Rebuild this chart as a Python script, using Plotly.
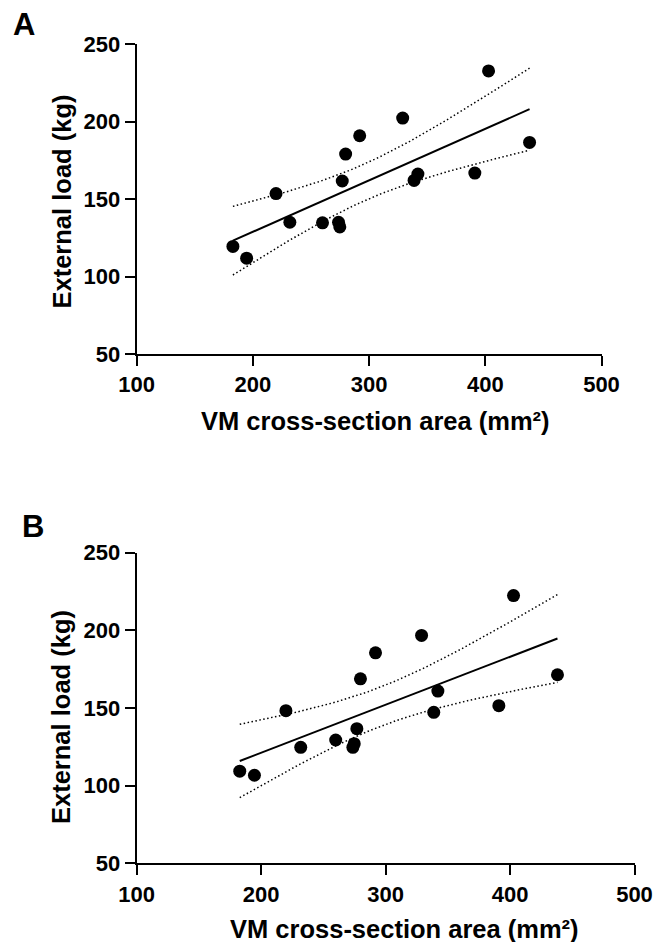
import numpy as np
import plotly.graph_objects as go

# ---- data ----
vm_area = [182.8, 194.6, 219.9, 231.8, 259.9, 273.7, 274.8, 276.9, 279.8, 291.9,
           328.9, 338.7, 342.0, 391.0, 402.8, 438.1]
load_a = [119.4, 111.8, 153.5, 135.0, 134.6, 135.0, 132.0, 161.6, 179.0, 190.8,
          202.2, 162.0, 166.1, 166.7, 232.6, 186.5]
load_b = [109.3, 106.7, 148.3, 124.7, 129.4, 124.7, 127.0, 136.7, 168.8, 185.5,
          196.7, 147.2, 160.9, 151.5, 222.4, 171.4]
x_ticks = [100, 200, 300, 400, 500]
y_ticks = [50, 100, 150, 200, 250]
x_title = "VM cross-section area (mm²)"
y_title = "External load (kg)"
panels = ["A", "B"]

W, H = 654, 942
T_CRIT = 2.1448  # t(0.975, df=14)


def fit(x, y):
    x = np.asarray(x, float)
    y = np.asarray(y, float)
    n = len(x)
    b, a = np.polyfit(x, y, 1)
    res = y - (a + b * x)
    s = np.sqrt(np.sum(res ** 2) / (n - 2))
    xbar = x.mean()
    sxx = np.sum((x - xbar) ** 2)
    xs = np.linspace(x.min(), x.max(), 100)
    ys = a + b * xs
    hw = T_CRIT * s * np.sqrt(1.0 / n + (xs - xbar) ** 2 / sxx)
    return xs, ys, ys - hw, ys + hw


def px_x(p):
    return p / W


def px_y(p):
    return 1 - p / H


fig = go.Figure()
font_family = "Liberation Sans, Arial, Helvetica, sans-serif"

for i, (ys_data, name) in enumerate([(load_a, "A"), (load_b, "B")]):
    xa = "x" if i == 0 else "x2"
    ya = "y" if i == 0 else "y2"
    xs, ys, lo, hi = fit(vm_area, ys_data)
    for band in (lo, hi):
        fig.add_trace(go.Scatter(x=xs, y=band, mode="lines", xaxis=xa, yaxis=ya,
                                 line=dict(color="black", width=1.5, dash="1.5px,2.5px"),
                                 showlegend=False, hoverinfo="skip"))
    fig.add_trace(go.Scatter(x=xs, y=ys, mode="lines", xaxis=xa, yaxis=ya,
                             line=dict(color="black", width=2), showlegend=False))
    fig.add_trace(go.Scatter(x=vm_area, y=ys_data, mode="markers", xaxis=xa, yaxis=ya,
                             marker=dict(color="black", size=13), showlegend=False))

axis_common = dict(showline=True, linecolor="black", linewidth=2, ticks="outside",
                   ticklen=10, tickwidth=2, tickcolor="black", showgrid=False,
                   zeroline=False, mirror=False, automargin=False,
                   tickfont=dict(family=font_family, size=22, color="black", weight="bold"))

fig.update_layout(
    template="none",
    width=W, height=H, margin=dict(l=0, r=0, t=0, b=0, autoexpand=False),
    plot_bgcolor="white", paper_bgcolor="white",
    xaxis=dict(domain=[px_x(136.7), px_x(601.5)], range=[100, 500], tickvals=x_ticks,
               anchor="y", **axis_common),
    yaxis=dict(domain=[px_y(354), px_y(44)], range=[50, 250], tickvals=y_ticks,
               anchor="x", **axis_common),
    xaxis2=dict(domain=[px_x(136.7), px_x(634.5)], range=[100, 500], tickvals=x_ticks,
                anchor="y2", **axis_common),
    yaxis2=dict(domain=[px_y(863.3), px_y(552.7)], range=[50, 250], tickvals=y_ticks,
                anchor="x2", **axis_common),
)

title_font = dict(family=font_family, size=25.5, color="black", weight="bold")
letter_font = dict(family=font_family, size=31, color="black", weight="bold")

annotations = [
    dict(text=panels[0], x=px_x(11), y=px_y(25), xref="paper", yref="paper",
         xanchor="left", yanchor="middle", showarrow=False, font=letter_font),
    dict(text=panels[1], x=px_x(20), y=px_y(526), xref="paper", yref="paper",
         xanchor="left", yanchor="middle", showarrow=False, font=letter_font),
    dict(text=y_title, x=px_x(61), y=px_y(201.5), xref="paper", yref="paper",
         xanchor="center", yanchor="middle", textangle=-90, showarrow=False, font=title_font),
    dict(text=y_title, x=px_x(61), y=px_y(717), xref="paper", yref="paper",
         xanchor="center", yanchor="middle", textangle=-90, showarrow=False, font=title_font),
    dict(text=x_title, x=px_x(375), y=px_y(421), xref="paper", yref="paper",
         xanchor="center", yanchor="middle", showarrow=False, font=title_font),
    dict(text=x_title, x=px_x(404), y=px_y(929), xref="paper", yref="paper",
         xanchor="center", yanchor="middle", showarrow=False, font=title_font),
]
fig.update_layout(annotations=annotations)

fig.write_html("out.html", config={"displayModeBar": False},
               post_script="document.body.style.margin='0';document.body.style.overflow='hidden';")
